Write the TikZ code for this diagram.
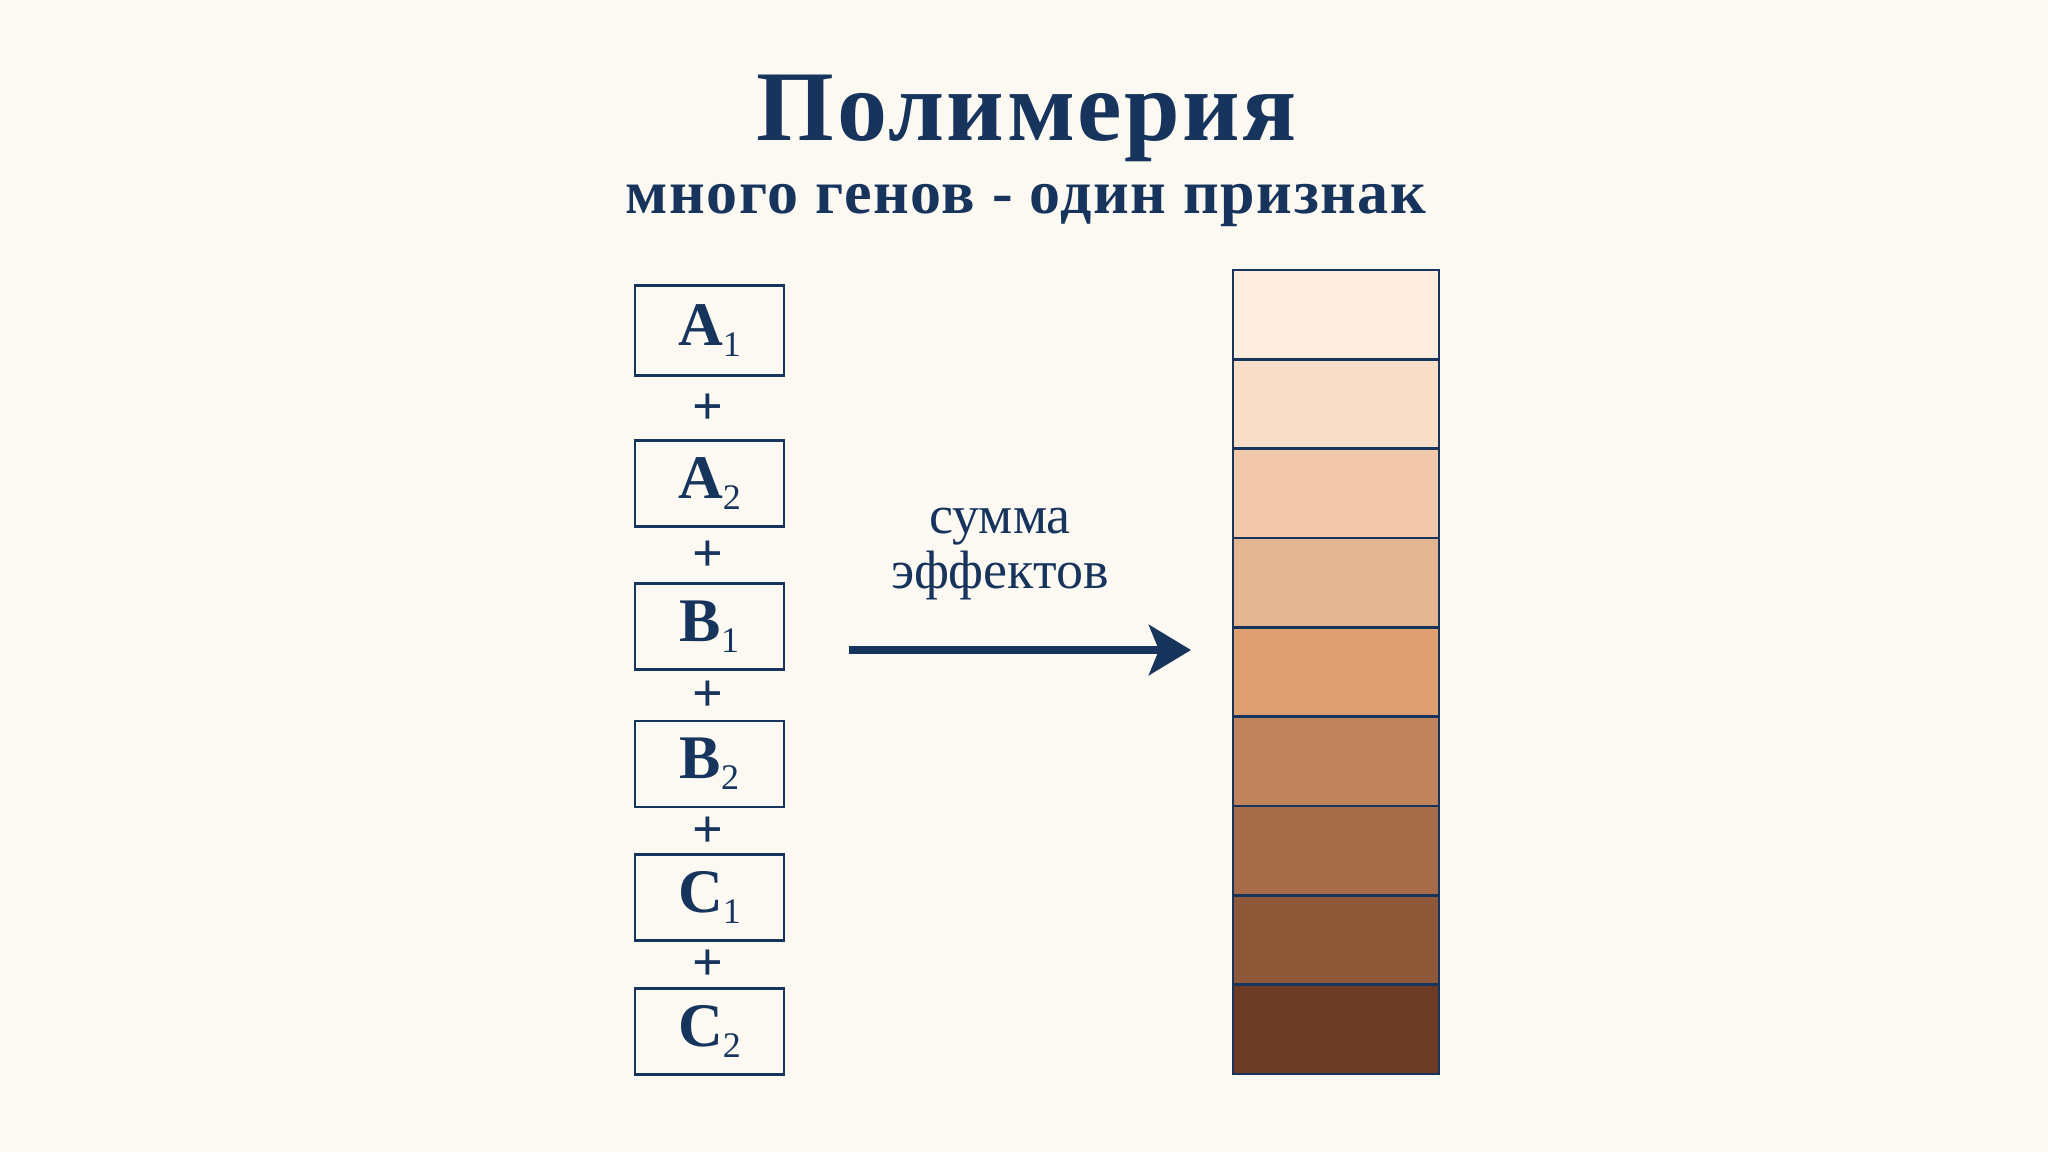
\documentclass[tikz,border=0pt]{standalone}
\usepackage{fontspec}
\setmainfont{Liberation Serif}
\newfontfamily\spacedserif[LetterSpace=2.5]{Liberation Serif}
\usetikzlibrary{arrows.meta}
\definecolor{bg}{HTML}{FCF8F2}
\definecolor{navy}{HTML}{16345C}
\definecolor{c1}{HTML}{FDEDDF}
\definecolor{c2}{HTML}{FADFC8}
\definecolor{c3}{HTML}{F1C9AA}
\definecolor{c4}{HTML}{E3B591}
\definecolor{c5}{HTML}{DEA071}
\definecolor{c6}{HTML}{C0835C}
\definecolor{c7}{HTML}{A66C47}
\definecolor{c8}{HTML}{8E5737}
\definecolor{c9}{HTML}{6B3C23}
\newcommand{\gene}[2]{\fontsize{62}{70}\selectfont\bfseries #1\raisebox{-11pt}{\fontsize{36}{40}\selectfont\mdseries #2}}
\tikzset{
  genebox/.style={draw=navy, line width=2.8pt, minimum width=149pt, minimum height=86pt, inner sep=0pt, text=navy, fill=bg},
  plussign/.style={text=navy, font=\fontsize{54}{60}\selectfont\bfseries, inner sep=0pt},
  seg/.style={draw=navy, line width=2.8pt, minimum width=206pt, minimum height=89.33pt, inner sep=0pt},
}
\begin{document}
\begin{tikzpicture}[x=1pt,y=-1pt]
\useasboundingbox (0,0) rectangle (2048,1152);
\fill[bg] (0,0) rectangle (2048,1152);
\node[text=navy, anchor=base, font=\fontsize{100}{120}\spacedserif\bfseries] (title) at (1027,140) {Полимерия};
\node[text=navy, anchor=base, font=\fontsize{62}{70}\spacedserif\bfseries] (sub) at (1026,213) {много генов - один признак};
\node[genebox, minimum height=90pt] (g1) at (709.5,330.5) {\gene{A}{1}};
\node[genebox] (g2) at (709.5,483.5) {\gene{A}{2}};
\node[genebox] (g3) at (709.5,626.5) {\gene{B}{1}};
\node[genebox] (g4) at (709.5,764) {\gene{B}{2}};
\node[genebox] (g5) at (709.5,897.5) {\gene{C}{1}};
\node[genebox] (g6) at (709.5,1031.5) {\gene{C}{2}};
\node[plussign] (p1) at (708,409) {+};
\node[plussign] (p2) at (708,556) {+};
\node[plussign] (p3) at (708,696) {+};
\node[plussign] (p4) at (708,832) {+};
\node[plussign] (p5) at (708,965) {+};
\foreach \i in {1,...,9} {
  \node[seg, fill=c\i] (s\i) at (1336,{270+89.33*(\i-0.5)}) {};
}
\node[text=navy, anchor=base, font=\fontsize{54}{60}\selectfont] (t1) at (1000,533) {сумма};
\node[text=navy, anchor=base, font=\fontsize{54}{60}\selectfont] (t2) at (1000,588) {эффектов};
\coordinate (aS) at (849,650);
\coordinate (aE) at (1191,650);
\draw[navy, line width=8pt, -{Stealth[length=42pt,width=50pt,inset=10pt]}] (aS) -- (aE);
\end{tikzpicture}
\end{document}
